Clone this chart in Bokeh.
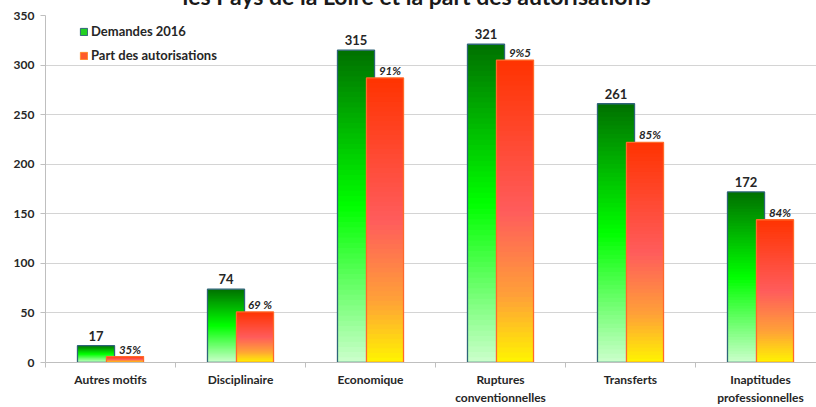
import numpy as np
from bokeh.plotting import figure
from bokeh.models import Range1d, FixedTicker, ColumnDataSource, Legend, LegendItem
from bokeh.core.properties import value
from bokeh.embed import file_html
from bokeh.resources import INLINE

# ---- data ----
title_text = "les Pays de la Loire et la part des autorisations"
categories = ["Autres motifs", "Disciplinaire", "Economique",
              "Ruptures\nconventionnelles", "Transferts", "Inaptitudes\nprofessionnelles"]
demandes = [17, 74, 315, 321, 261, 172]
autorisations = [6, 51, 287, 305, 222, 144]
pct_labels = ["35%", "69 %", "91%", "9%5", "85%", "84%"]
y_ticks = [0, 50, 100, 150, 200, 250, 300, 350]
series_names = ["Demandes 2016", "Part des autorisations"]

# ---- style ----
FONT = "Lato"
TXT = "#262626"
BW = 0.285      # bar width (category units)
OFF = 0.1115    # bar offset from category centre
N = 60          # gradient steps
SHIFT = 26      # figure is pulled up so that the title is cut by the window edge
W, H = 816, 407 + SHIFT
BL, BT, BB = 45, 15 + SHIFT, 45
FRAME_H = H - BT - BB
CAT_PX = 130.0

green_stops = [(0.0, (0, 112, 0)), (0.5, (0, 255, 0)), (1.0, (204, 255, 204))]
red_stops = [(0.0, (255, 51, 0)), (0.5, (255, 92, 92)), (0.78, (255, 160, 56)), (1.0, (255, 245, 0))]


def lerp(stops, t):
    for (p0, c0), (p1, c1) in zip(stops[:-1], stops[1:]):
        if t <= p1:
            u = (t - p0) / (p1 - p0)
            return "#%02x%02x%02x" % tuple(int(round(a + (b - a) * u)) for a, b in zip(c0, c1))
    return "#%02x%02x%02x" % stops[-1][1]


def gradient_source(values, offset, stops):
    d = dict(left=[], right=[], top=[], bottom=[], color=[])
    for i, v in enumerate(values):
        c = i + 0.5 + offset
        for k in range(N):
            d["left"].append(c - BW / 2)
            d["right"].append(c + BW / 2)
            d["top"].append(v * (N - k) / N)
            d["bottom"].append(0)
            d["color"].append(lerp(stops, (k + 0.5) / N))
    return ColumnDataSource(d)


centers = np.arange(len(categories)) + 0.5
x_end = (W - BL) / CAT_PX
y_max = y_ticks[-1]

p = figure(width=W, height=H, output_backend="svg", toolbar_location=None,
           x_range=Range1d(0, x_end), y_range=Range1d(0, y_max),
           min_border_left=BL, min_border_right=0, min_border_top=BT, min_border_bottom=BB,
           title=title_text)
p.styles = {"margin-top": "-%dpx" % SHIFT}
p.outline_line_color = None
p.background_fill_color = "white"

p.title.align = "left"
p.title.offset = 137
p.title.standoff = 11
p.title.text_font = FONT
p.title.text_font_style = "bold"
p.title.text_font_size = "23px"
p.title.text_color = "#1a1a1a"

# bars: green
p.quad(left="left", right="right", top="top", bottom="bottom", fill_color="color",
       line_color=None, source=gradient_source(demandes, -OFF, green_stops))
p.quad(left=centers - OFF - BW / 2, right=centers - OFF + BW / 2, top=demandes, bottom=0,
       fill_color=None, line_color="#2f6479", line_width=1.3)
# bars: red
p.quad(left="left", right="right", top="top", bottom="bottom", fill_color="color",
       line_color=None, source=gradient_source(autorisations, OFF, red_stops))
p.quad(left=centers + OFF - BW / 2, right=centers + OFF + BW / 2, top=autorisations, bottom=0,
       fill_color=None, line_color="#ff6a2a", line_width=1.3)

# labels
p.text(x=centers - OFF, y=demandes, text=[str(v) for v in demandes],
       text_align="center", text_baseline="bottom", y_offset=-5,
       text_font=value(FONT), text_font_style="bold", text_font_size="13px", text_color=TXT)
p.text(x=centers + OFF, y=autorisations, text=pct_labels,
       text_align="center", text_baseline="bottom", x_offset=5, y_offset=-1,
       text_font=value(FONT), text_font_style="bold italic", text_font_size="11.5px", text_color=TXT)

# legend (dummy zero-width quads outside the visible range carry the legend glyphs)
g_dummy = p.quad(left=[-1], right=[-1], top=[0], bottom=[0], fill_color="#22d022", line_color="#2f6479")
r_dummy = p.quad(left=[-1], right=[-1], top=[0], bottom=[0], fill_color="#ff5a2a", line_color="#ff8a2a")
legend = Legend(items=[LegendItem(label=series_names[0], renderers=[g_dummy]),
                       LegendItem(label=series_names[1], renderers=[r_dummy])],
                location=(34, FRAME_H - 48), orientation="vertical",
                glyph_width=9, glyph_height=9, label_height=9, label_standoff=3,
                spacing=8, padding=0, margin=0, border_line_color=None,
                background_fill_alpha=0,
                label_text_font=FONT, label_text_font_style="bold",
                label_text_font_size="13px", label_text_color=TXT)
p.add_layout(legend)

# axes
xa = p.xaxis[0]
xa.ticker = FixedTicker(ticks=list(centers), minor_ticks=list(range(len(categories) + 1)))
xa.major_label_overrides = {float(c): categories[i] for i, c in enumerate(centers)}
xa.major_tick_line_color = None
xa.minor_tick_in = 0
xa.minor_tick_out = 5
xa.minor_tick_line_color = "#bfbfbf"
xa.axis_line_color = "#bfbfbf"
xa.major_label_standoff = 3
xa.major_label_text_font = FONT
xa.major_label_text_font_style = "bold"
xa.major_label_text_font_size = "12px"
xa.major_label_text_color = TXT

ya = p.yaxis[0]
ya.ticker = FixedTicker(ticks=y_ticks)
ya.minor_tick_line_color = None
ya.major_tick_in = 0
ya.major_tick_out = 5
ya.major_tick_line_color = "#bfbfbf"
ya.axis_line_color = "#bfbfbf"
ya.major_label_standoff = 6
ya.major_label_text_font = FONT
ya.major_label_text_font_style = "bold"
ya.major_label_text_font_size = "12px"
ya.major_label_text_color = TXT

p.xgrid.grid_line_color = None
p.ygrid.grid_line_color = "#d4d4d4"
p.ygrid.ticker = FixedTicker(ticks=y_ticks)

open("out.html", "w").write(file_html(p, INLINE))
